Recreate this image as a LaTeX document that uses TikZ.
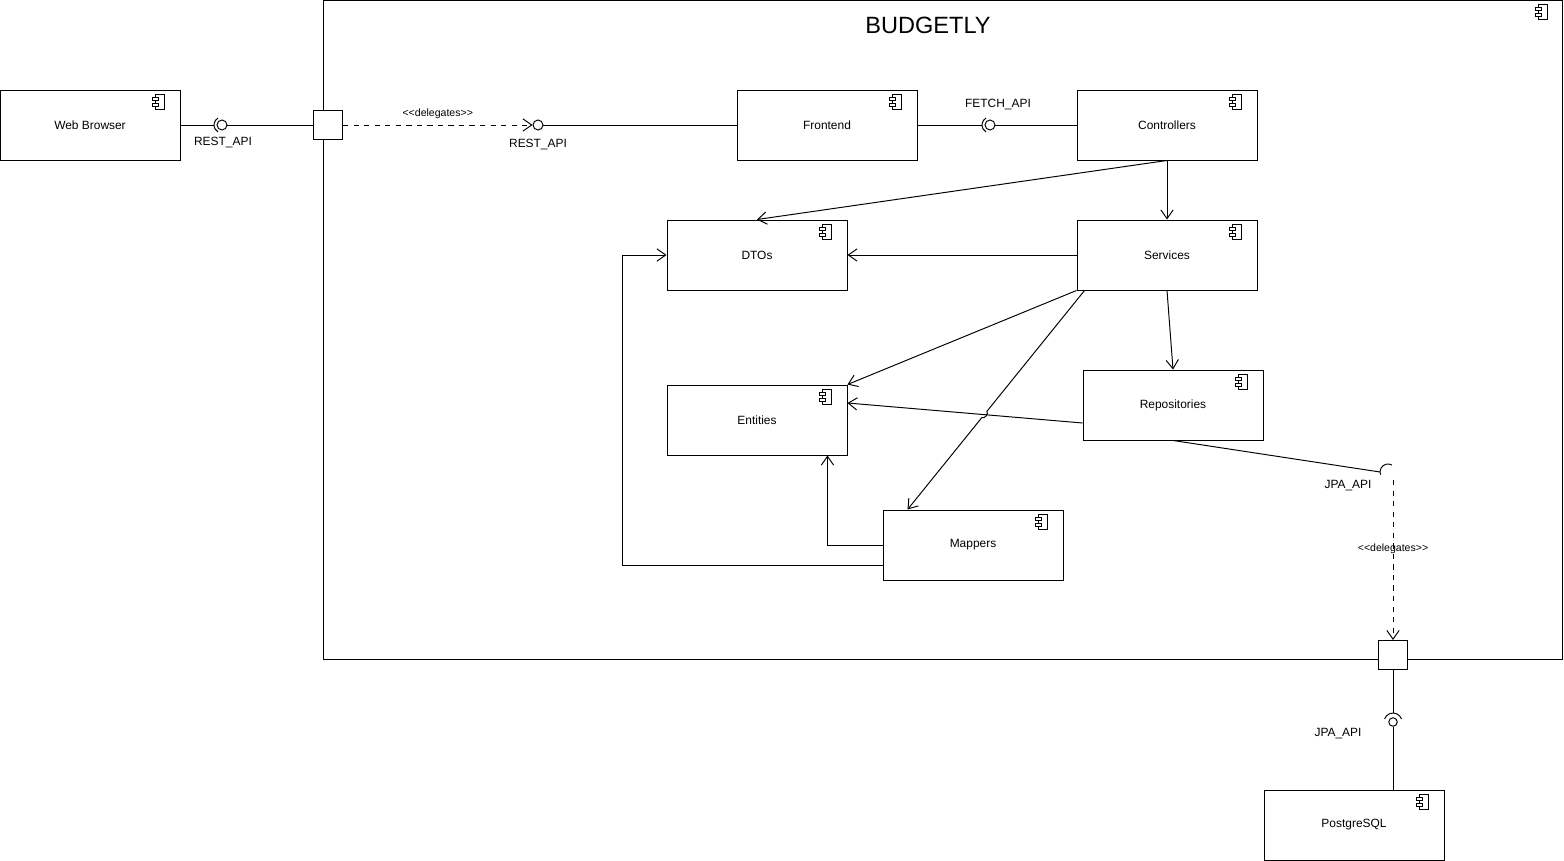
\documentclass[tikz,border=0pt]{standalone}
\usepackage{fontspec}
\setmainfont{Liberation Sans}
\usetikzlibrary{arrows.meta,calc}
% component symbol in the top right corner of a box
\newcommand{\comp}[1]{
  \draw ([shift={(-25,5)}]#1.north east) rectangle ++(9,15);
  \draw[fill=white] ([shift={(-28,8)}]#1.north east) rectangle ++(6,3);
  \draw[fill=white] ([shift={(-28,14)}]#1.north east) rectangle ++(6,3);
}
\newcommand{\deleg}{{<}{<}delegates{>}{>}}
\tikzset{
  box/.style={draw, minimum width=3.6cm, minimum height=1.4cm, font=\fontsize{6.8}{8}\selectfont},
  port/.style={draw, fill=white, minimum size=0.58cm, inner sep=0pt},
  ball/.style={draw, circle, minimum size=0.2cm, inner sep=0pt},
  lbl/.style={font=\fontsize{6.8}{8}\selectfont},
  stereo/.style={font=\fontsize{6}{7}\selectfont},
  dep/.style={-{Straight Barb[length=5pt,width=7pt]}},
}

\begin{document}
\begin{tikzpicture}[x=0.02cm, y=-0.02cm, line width=0.55pt]
  \useasboundingbox (0,0) rectangle (1564,861);

  \node[draw, minimum width=24.8cm, minimum height=13.2cm] (sys) at (943,330) {};
  \comp{sys}
  \node[font=\fontsize{13.4}{16}\selectfont] (title) at (928,25) {BUDGETLY};

  \node[box] (web) at (90,125) {Web Browser};
  \node[box] (front) at (827,125) {Frontend};
  \node[box] (ctrl) at (1167,125) {Controllers};
  \node[box] (dtos) at (757,255) {DTOs};
  \node[box] (serv) at (1167,255) {Services};
  \node[box] (ent) at (757,420) {Entities};
  \node[box] (repo) at (1173,405) {Repositories};
  \node[box] (map) at (973,545) {Mappers};
  \node[box] (psql) at (1354,825) {PostgreSQL};
  \comp{web} \comp{front} \comp{ctrl} \comp{dtos} \comp{serv}
  \comp{ent} \comp{repo} \comp{map} \comp{psql}

  \node[port] (p1) at (328,125) {};
  \node[port] (p2) at (1393,655) {};

  % REST_API outside
  \node[ball] (rb1) at (222,125) {};
  \draw ([shift={(120:0.16cm)}]rb1.center) arc[start angle=120, end angle=240, radius=0.16cm];
  \draw (web.east) -- ([shift={(-0.16cm,0pt)}]rb1.center);
  \draw (rb1.east) -- (p1.west);
  \node[lbl] (rl1) at (223,143) {REST\_API};

  % REST_API inside
  \node[ball] (rb2) at (538,125) {};
  \draw[dashed, dep] (p1.east) -- node[stereo, above] {\deleg} (rb2.west);
  \draw (rb2.east) -- (front.west);
  \node[lbl] (rl2) at (538,145) {REST\_API};

  % FETCH_API
  \node[ball] (fb) at (990,125) {};
  \draw ([shift={(120:0.16cm)}]fb.center) arc[start angle=120, end angle=240, radius=0.16cm];
  \draw (front.east) -- ([shift={(-0.16cm,0pt)}]fb.center);
  \draw (fb.east) -- (ctrl.west);
  \node[lbl] (fl) at (998,105) {FETCH\_API};

  % dependencies
  \draw[dep] (ctrl.south) -- (dtos.north);
  \draw[dep] (ctrl.south) -- (serv.north);
  \draw[dep] (serv.west) -- (dtos.east);
  \draw[dep] (serv.south west) -- (ent.north east);
  \draw[dep] (serv.south) -- (repo.north);
  \draw[dep] ([shift={(0,18)}]repo.west) -- ([shift={(0,-17)}]ent.east);
  \coordinate (s1) at ([shift={(8,0)}]serv.south west);
  \coordinate (m1) at ([shift={(25,0)}]map.north west);
  \draw[dep] (s1) -- ($(s1)!0.552!(m1)$) to[bend left=90] ($(s1)!0.58!(m1)$) -- (m1);
  \draw[dep] (map.west) -| ([shift={(-20,0)}]ent.south east);
  \draw[dep] ([shift={(0,20)}]map.west) -- ++(-260,0) |- (dtos.west);

  % JPA_API inside
  \coordinate (js) at (1388,472);
  \draw ([shift={(60:0.16cm)}]js) arc[start angle=60, end angle=200, radius=0.16cm];
  \draw (repo.south) -- ([shift={(-0.16cm,0pt)}]js);
  \node[lbl] (jl1) at (1348,486) {JPA\_API};
  \coordinate (jd) at (1393,480);
  \draw[dashed, dep] (jd) -- node[stereo, pos=0.43] {\deleg} (p2.north);

  % JPA_API outside
  \node[draw, circle, minimum size=0.17cm, inner sep=0pt] (jb) at (1393,722) {};
  \draw ([shift={(20:0.18cm)}]jb.center) arc[start angle=20, end angle=160, radius=0.18cm];
  \draw (p2.south) -- ([shift={(0pt,0.18cm)}]jb.center);
  \draw (jb.south) -- (jb.south |- psql.north);
  \node[lbl] (jl2) at (1338,734) {JPA\_API};
\end{tikzpicture}
\end{document}
